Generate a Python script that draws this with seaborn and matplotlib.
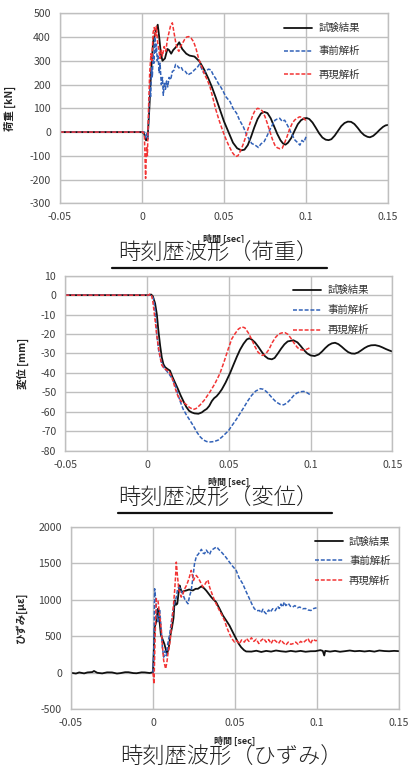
import numpy as np
import pandas as pd
import matplotlib
matplotlib.use("Agg")
import matplotlib.pyplot as plt
from matplotlib.lines import Line2D
import seaborn as sns

# ---- 荷重 [kN] ----
load_exp_t = [-0.05, 0.0, 0.0012, 0.0025, 0.0035, 0.0045, 0.0055, 0.0068, 0.0082, 0.0096, 0.0105, 0.0115,
              0.0125, 0.014, 0.0155, 0.0165, 0.0178, 0.019, 0.021, 0.0227, 0.0245, 0.027, 0.029, 0.032, 0.035,
              0.038, 0.0405, 0.0425, 0.045, 0.0476, 0.050, 0.053, 0.0555, 0.058, 0.0605, 0.0625, 0.0645, 0.0665,
              0.0685, 0.0705, 0.0725, 0.0745, 0.0765, 0.0785, 0.0805, 0.0825, 0.0845, 0.086, 0.0875, 0.089,
              0.091, 0.093, 0.095, 0.097, 0.099, 0.1005, 0.102, 0.104, 0.106, 0.108, 0.110, 0.112, 0.1138,
              0.1155, 0.1175, 0.1195, 0.1215, 0.1235, 0.1255, 0.1275, 0.1295, 0.1315, 0.1335, 0.1355, 0.1375,
              0.139, 0.141, 0.143, 0.145, 0.147, 0.1485, 0.150]
load_exp_v = [0, 0, -5, -35, -20, 100, 250, 380, 420, 452, 400, 330,
              300, 310, 350, 345, 330, 345, 360, 378, 350, 330, 322, 318, 298,
              262, 225, 192, 145, 93, 45, -4, -45, -68, -77, -74, -55, -20,
              20, 55, 78, 85, 80, 58, 25, -8, -35, -48, -53, -45,
              -25, 5, 33, 50, 58, 59, 55, 40, 18, -5, -23, -32, -34,
              -30, -15, 5, 25, 38, 44, 43, 34, 18, 0, -13, -20,
              -22, -16, -4, 10, 22, 28, 30]

load_pre_t = [-0.05, 0.0015, 0.0025, 0.0032, 0.0036, 0.0042, 0.0048, 0.0053, 0.0058, 0.0063, 0.0068, 0.0073,
              0.0078, 0.0083, 0.0088, 0.0093, 0.0098, 0.0105, 0.011, 0.0118, 0.0125, 0.013, 0.0137, 0.0143,
              0.015, 0.0157, 0.0165, 0.0175, 0.0185, 0.0195, 0.0205, 0.0215, 0.0225, 0.0238, 0.025, 0.0265,
              0.028, 0.029, 0.0305, 0.032, 0.0335, 0.035, 0.0362, 0.0375, 0.039, 0.0405, 0.042, 0.0435, 0.045,
              0.0465, 0.048, 0.0495, 0.051, 0.0537, 0.0555, 0.0577, 0.0595, 0.0618, 0.064, 0.0669, 0.069, 0.071,
              0.0725, 0.0745, 0.076, 0.078, 0.0795, 0.0811, 0.0825, 0.084, 0.0855, 0.087, 0.0892, 0.091, 0.0933,
              0.095, 0.0963, 0.0975, 0.0988, 0.100]
load_pre_v = [0, 0, -25, -5, -30, 80, 190, 150, 270, 230, 330, 290,
              400, 330, 370, 300, 320, 250, 290, 200, 230, 155, 210, 180,
              215, 190, 230, 220, 255, 260, 285, 280, 270, 275, 258, 255,
              240, 245, 250, 262, 270, 285, 270, 250, 255, 265, 262, 240, 225,
              205, 190, 172, 150, 128, 100, 79, 50, 22, -15, -48, -55, -65,
              -50, -40, -20, 10, 30, 50, 55, 58, 45, 50, 22, -5, -34,
              -45, -55, -35, -42, -20]

load_rep_t = [-0.05, 0.0008, 0.0015, 0.0022, 0.0028, 0.0033, 0.004, 0.0047, 0.0055, 0.006, 0.0068, 0.0075,
              0.0082, 0.0088, 0.0095, 0.0102, 0.011, 0.0118, 0.0125, 0.0135, 0.0145, 0.0155, 0.0165, 0.0175,
              0.0185, 0.0195, 0.0205, 0.0215, 0.0225, 0.0235, 0.0248, 0.026, 0.0272, 0.0285, 0.030, 0.0315,
              0.033, 0.0345, 0.0364, 0.038, 0.0398, 0.0415, 0.043, 0.045, 0.047, 0.0485, 0.0498, 0.0515, 0.053,
              0.055, 0.057, 0.0585, 0.060, 0.0615, 0.063, 0.0645, 0.066, 0.0675, 0.069, 0.0705, 0.072, 0.0735,
              0.075, 0.0765, 0.078, 0.0795, 0.081, 0.0825, 0.084, 0.0855, 0.087, 0.0885, 0.090, 0.0915, 0.093,
              0.0945, 0.096, 0.0975, 0.099, 0.100]
load_rep_v = [0, 0, -20, -195, -60, -100, 100, 250, 330, 300, 420, 440,
              400, 445, 380, 350, 310, 345, 320, 360, 340, 390, 420, 450,
              460, 420, 380, 350, 340, 360, 375, 390, 400, 402, 395, 380,
              350, 310, 275, 245, 220, 190, 150, 95, 50, 20, -5, -35, -58,
              -85, -103, -100, -80, -55, -25, 10, 40, 70, 92, 100, 97, 88,
              65, 35, 2, -30, -55, -66, -70, -68, -45, -18, 12, 35, 50,
              58, 64, 63, 55, 48]

# ---- 変位 [mm] ----
disp_exp_t = [-0.05, 0.0015, 0.0025, 0.0035, 0.0049, 0.006, 0.0069, 0.008, 0.009, 0.010, 0.011, 0.0125, 0.014,
              0.0155, 0.0171, 0.019, 0.0205, 0.0222, 0.024, 0.0257, 0.0273, 0.029, 0.0314, 0.0335, 0.035, 0.0365,
              0.038, 0.0396, 0.041, 0.0425, 0.044, 0.0457, 0.048, 0.0508, 0.053, 0.055, 0.0569, 0.059, 0.061,
              0.0625, 0.064, 0.066, 0.068, 0.070, 0.072, 0.074, 0.0763, 0.078, 0.080, 0.082, 0.084, 0.086,
              0.0895, 0.092, 0.094, 0.096, 0.098, 0.100, 0.1025, 0.105, 0.107, 0.109, 0.111, 0.113, 0.115,
              0.117, 0.119, 0.121, 0.123, 0.125, 0.127, 0.129, 0.131, 0.133, 0.135, 0.137, 0.1395, 0.142,
              0.144, 0.146, 0.148, 0.150]
disp_exp_v = [0, 0, 0.3, -0.5, -4.2, -10, -18, -26, -32, -35.5, -37, -38, -38.8,
              -42, -45, -48.5, -51.5, -54.5, -57.5, -59.5, -60.3, -60.8, -61, -60.3, -59.3, -58.5,
              -57, -54.5, -53, -52, -50.5, -48.5, -45, -40, -35.5, -31.5, -28, -25, -22.8,
              -22.2, -22.8, -24.3, -26.5, -29, -31.3, -32.6, -33, -32.3, -30, -27.5, -25.3, -23.8,
              -23.2, -24.3, -26.2, -28.3, -30, -31, -31.3, -30.5, -29, -27.2, -25.7, -24.8, -24.5,
              -25.2, -26.5, -28, -29.3, -30, -30.1, -29.5, -28.4, -27.2, -26.3, -25.8, -25.7, -26.2,
              -26.9, -27.7, -28.4, -29]

disp_pre_t = [-0.05, 0.0018, 0.003, 0.004, 0.0049, 0.0059, 0.007, 0.008, 0.009, 0.0105, 0.012, 0.0134, 0.015,
              0.0171, 0.0185, 0.0202, 0.022, 0.024, 0.0263, 0.0285, 0.0305, 0.0324, 0.0345, 0.0365, 0.0385,
              0.041, 0.0436, 0.046, 0.0497, 0.052, 0.0545, 0.0569, 0.059, 0.0615, 0.064, 0.0665, 0.0693,
              0.071, 0.073, 0.075, 0.077, 0.079, 0.0815, 0.0835, 0.0855, 0.0875, 0.0895, 0.0915, 0.0935,
              0.0958, 0.0975, 0.0997]
disp_pre_v = [0, 0, -0.5, -2, -8, -20, -28, -32, -35, -37.5, -39, -40.5, -42.5,
              -46, -50, -54.5, -58.5, -61.5, -64.5, -67.5, -70.5, -72.8, -74.5, -75.3, -75.5,
              -75.3, -74.5, -72.8, -69.8, -67, -64, -60.8, -58, -54.5, -51.5, -49.3, -48.1,
              -48.4, -49.6, -51.4, -53.3, -55, -56.2, -56.4, -55.5, -53.8, -51.8, -50.4, -49.7,
              -49.5, -50, -51.2]

disp_rep_t = [-0.05, 0.001, 0.0018, 0.0027, 0.0035, 0.0049, 0.006, 0.0069, 0.008, 0.009, 0.0105, 0.012, 0.0135,
              0.0151, 0.0165, 0.0182, 0.0197, 0.0212, 0.0228, 0.0243, 0.026, 0.0283, 0.030, 0.0324, 0.035,
              0.0385, 0.0415, 0.0446, 0.047, 0.0497, 0.0518, 0.0538, 0.0558, 0.0579, 0.0598, 0.062, 0.064,
              0.066, 0.068, 0.0705, 0.0725, 0.0745, 0.0765, 0.0785, 0.0805, 0.0825, 0.0844, 0.0862, 0.088,
              0.090, 0.092, 0.094, 0.0958, 0.0978, 0.0997]
disp_rep_v = [0, 0, 0.6, 0, -3, -12.8, -21, -26.5, -32, -36, -37.8, -38.5, -39.5,
              -42, -46, -50.5, -53.5, -54.8, -55.5, -56.5, -57.8, -58.8, -58.3, -56.5, -54,
              -49.7, -45.5, -40.2, -34.5, -27.5, -22.5, -19.8, -17.5, -16.3, -16.8, -19.5, -22.8,
              -26.5, -29.5, -31, -30.3, -28, -24.5, -21.8, -20, -19.4, -19.3, -20.2, -22.2,
              -24.8, -27, -28.1, -28.3, -27.8, -27]

# ---- ひずみ [με] ----
strain_exp_t = [-0.05, -0.047, -0.045, -0.042, -0.04, -0.037, -0.036, -0.034, -0.031, -0.028, -0.025, -0.022,
                -0.02, -0.017, -0.015, -0.012, -0.01, -0.007, -0.005, -0.002, 0.0, 0.001, 0.002, 0.003, 0.004,
                0.0048, 0.0057, 0.0069, 0.0085, 0.0095, 0.0105, 0.0116, 0.0125, 0.0132, 0.014, 0.0148, 0.0155,
                0.0162, 0.0168, 0.0176, 0.019, 0.0203, 0.022, 0.0243, 0.026, 0.0274, 0.0294, 0.031, 0.0324,
                0.034, 0.0355, 0.037, 0.0385, 0.0405, 0.0426, 0.0445, 0.0466, 0.049, 0.0507, 0.0522, 0.0537,
                0.0555, 0.0568, 0.06, 0.063, 0.066, 0.069, 0.072, 0.075, 0.078, 0.081, 0.084, 0.087, 0.09,
                0.093, 0.096, 0.099, 0.102, 0.1035, 0.1044, 0.1050, 0.108, 0.111, 0.114, 0.117, 0.12, 0.123,
                0.126, 0.129, 0.132, 0.135, 0.138, 0.141, 0.144, 0.147, 0.150]
strain_exp_v = [0, -10, 5, -8, 5, 10, 25, 0, -8, 6, 5, -10,
                -5, 8, 8, -4, -6, 6, 5, -3, 8, 625, 700, 877, 700,
                520, 466, 397, 260, 330, 500, 625, 750, 990, 930, 945, 1080,
                1196, 1150, 1104, 1120, 1127, 1140, 1127, 1150, 1150, 1182, 1160, 1127,
                1080, 1036, 1000, 967, 880, 785, 720, 648, 540, 466, 400, 351,
                310, 292, 290, 302, 285, 300, 290, 305, 295, 288, 300, 290, 300,
                288, 295, 296, 310, 300, 237, 300, 290, 300, 288, 296, 305, 295,
                300, 292, 300, 290, 305, 298, 295, 300, 296]

strain_pre_t = [0.0, 0.0005, 0.001, 0.0017, 0.0024, 0.003, 0.0041, 0.005, 0.0057, 0.0065, 0.0073, 0.0081,
                0.009, 0.0102, 0.0112, 0.0122, 0.0132, 0.0142, 0.015, 0.0158, 0.0168, 0.018, 0.0195, 0.0213,
                0.0223, 0.0233, 0.0243, 0.0253, 0.0265, 0.0275, 0.0284, 0.0295, 0.0305, 0.0314, 0.0325, 0.0334,
                0.0345, 0.0355, 0.0365, 0.0378, 0.039, 0.040, 0.041, 0.0426, 0.0445, 0.0466, 0.0485, 0.0507,
                0.0525, 0.0547, 0.0568, 0.0588, 0.0603, 0.0618, 0.0633, 0.0649, 0.066, 0.067, 0.068, 0.069,
                0.0705, 0.0715, 0.073, 0.0745, 0.076, 0.077, 0.078, 0.079, 0.080, 0.081, 0.0825, 0.0838,
                0.0851, 0.0865, 0.088, 0.0895, 0.0912, 0.093, 0.0945, 0.0963, 0.098, 0.0997]
strain_pre_v = [0, 300, 1150, 1000, 762, 700, 853, 600, 350, 214, 300, 233,
                400, 534, 700, 853, 950, 1036, 1150, 1173, 1150, 1082, 1000, 945,
                1050, 1127, 1300, 1493, 1600, 1620, 1652, 1690, 1640, 1630, 1680, 1650,
                1620, 1675, 1690, 1710, 1721, 1690, 1670, 1630, 1580, 1515, 1460, 1402,
                1300, 1219, 1110, 1014, 940, 877, 850, 853, 820, 870, 830, 808,
                860, 830, 877, 850, 910, 880, 940, 900, 967, 920, 950, 910,
                899, 920, 890, 900, 877, 880, 860, 853, 880, 890]

strain_rep_t = [0.0, 0.0006, 0.0013, 0.002, 0.003, 0.004, 0.0051, 0.0058, 0.0065, 0.0077, 0.0085, 0.0091,
                0.0098, 0.0105, 0.0113, 0.0122, 0.0132, 0.0137, 0.0142, 0.0148, 0.0158, 0.0165, 0.0172, 0.0183,
                0.0193, 0.0205, 0.0219, 0.0233, 0.0247, 0.0255, 0.0264, 0.0275, 0.0284, 0.0294, 0.0304, 0.0314,
                0.0324, 0.0335, 0.0345, 0.036, 0.0375, 0.039, 0.0405, 0.042, 0.0436, 0.045, 0.0466, 0.048,
                0.0497, 0.051, 0.0527, 0.054, 0.0557, 0.057, 0.0585, 0.060, 0.0615, 0.063, 0.0645, 0.066,
                0.0675, 0.069, 0.0705, 0.072, 0.0735, 0.075, 0.0765, 0.078, 0.0795, 0.081, 0.0825, 0.084,
                0.0855, 0.087, 0.0885, 0.090, 0.0915, 0.093, 0.0945, 0.096, 0.0975, 0.099, 0.100]
strain_rep_v = [0, -151, 500, 1014, 990, 800, 580, 350, 168, 55, 150, 260,
                350, 442, 650, 853, 1127, 1300, 1515, 1350, 1127, 1100, 1036, 1080,
                1150, 1200, 1288, 1402, 1265, 1310, 1333, 1300, 1265, 1220, 1173, 1200,
                1241, 1270, 1173, 1080, 990, 920, 853, 790, 717, 620, 534, 470,
                420, 440, 397, 450, 420, 470, 430, 480, 430, 460, 400, 445,
                470, 420, 455, 400, 460, 430, 400, 450, 410, 380, 420, 390,
                400, 420, 390, 430, 410, 440, 470, 400, 460, 440, 442]

series_names = ["試験結果", "事前解析", "再現解析"]
x_ticks = [-0.05, 0, 0.05, 0.1, 0.15]
x_ticklabels = ["-0.05", "0", "0.05", "0.1", "0.15"]
load_ticks = list(range(-300, 501, 100))
disp_ticks = list(range(-80, 11, 10))
strain_ticks = list(range(-500, 2001, 500))

sns.set_style("white")
plt.rcParams['font.family'] = ['Noto Sans CJK JP', 'DejaVu Sans']

styles = {
    "試験結果": dict(color="#111111", lw=1.3, linestyle="-"),
    "事前解析": dict(color="#3262b8", lw=1.1, linestyle=(0, (2.6, 1.2))),
    "再現解析": dict(color="#f23434", lw=1.1, linestyle=(0, (2.6, 1.2))),
}
grid_c = "#bfbfbf"


def draw_panel(ax, curves, yticks, ylabel, ylab_x, xlab_y, leg_anchor, leg_space):
    for name, (t, v) in zip(series_names, curves):
        df = pd.DataFrame({"t": t, "v": v})
        sns.lineplot(data=df, x="t", y="v", ax=ax, sort=False, estimator=None,
                     label=name, **styles[name])
    ax.set_xlim(-0.05, 0.15)
    ax.set_ylim(yticks[0], yticks[-1])
    ax.set_xticks(x_ticks)
    ax.set_xticklabels(x_ticklabels)
    ax.set_yticks(yticks)
    ax.set_yticklabels([str(y) for y in yticks])
    ax.grid(True, color=grid_c, lw=1.0)
    ax.set_axisbelow(True)
    for s in ax.spines.values():
        s.set_color(grid_c)
        s.set_linewidth(1.0)
    ax.tick_params(length=0, labelsize=7.6, colors="#404040", pad=6.5)
    ax.set_ylabel(ylabel, fontsize=7.5, fontweight="bold")
    ax.yaxis.set_label_coords(ylab_x, 0.5)
    ax.set_xlabel("時間 [sec]", fontsize=6.5, fontweight="bold")
    ax.xaxis.set_label_coords(0.5, xlab_y)
    ax.legend(loc="upper right", bbox_to_anchor=leg_anchor, frameon=False, fontsize=7.5,
              handlelength=2.7, handletextpad=0.6, labelspacing=leg_space, borderpad=0,
              labelcolor="#333333")


fig = plt.figure(figsize=(4.1, 7.69), dpi=100)
ax1 = fig.add_axes([0.1463, 0.7356, 0.800, 0.2471])
ax2 = fig.add_axes([0.1593, 0.4139, 0.7976, 0.2276])
ax3 = fig.add_axes([0.1732, 0.0776, 0.8000, 0.2375])

draw_panel(ax1, [(load_exp_t, load_exp_v), (load_pre_t, load_pre_v), (load_rep_t, load_rep_v)],
           load_ticks, "荷重 [kN]", -0.135, -0.16, (0.93, 0.975), 1.25)
draw_panel(ax2, [(disp_exp_t, disp_exp_v), (disp_pre_t, disp_pre_v), (disp_rep_t, disp_rep_v)],
           disp_ticks, "変位 [mm]", -0.11, -0.15, (0.944, 0.975), 0.95)
draw_panel(ax3, [(strain_exp_t, strain_exp_v), (strain_pre_t, strain_pre_v), (strain_rep_t, strain_rep_v)],
           strain_ticks, "ひずみ[με]", -0.135, -0.145, (0.99, 0.975), 0.9)

captions = ["時刻歴波形（荷重）", "時刻歴波形（変位）", "時刻歴波形（ひずみ）"]
cap_pos = [(218, 254), (218, 499), (231, 758)]
W, H = 410, 769
for text, (cx, cy) in zip(captions, cap_pos):
    fig.text(cx / W, 1 - cy / H, text, ha="center", va="center", fontsize=16, color="#222222",
             fontweight="light", bbox=dict(facecolor="white", edgecolor="none", pad=0), zorder=5)

for x0, x1, yy in [(112, 327, 267.5), (118, 332, 512.5)]:
    fig.add_artist(Line2D([x0 / W, x1 / W], [1 - yy / H, 1 - yy / H], transform=fig.transFigure,
                          color="#111111", lw=1.6, zorder=6))

fig.savefig("out.png", dpi=100)
